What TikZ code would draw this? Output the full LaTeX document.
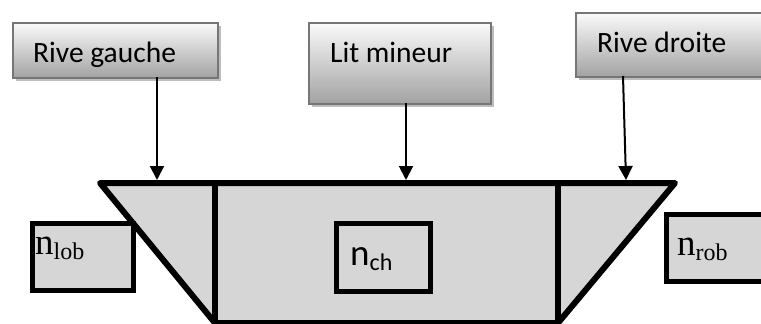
\documentclass[tikz,border=0pt]{standalone}
\usepackage{fontspec}
\setmainfont{Carlito}
\newfontfamily\serifn{Liberation Serif}
\usetikzlibrary{arrows.meta}
\definecolor{chanfill}{HTML}{D6D6D6}
\definecolor{boxborder}{HTML}{767676}
\definecolor{boxshadow}{HTML}{BDBDBD}
\definecolor{gradtop}{HTML}{FAFAFA}
\definecolor{gradbot}{HTML}{A2A2A2}
\tikzset{
  x=1pt, y=-1pt,
  labelbox/.style={draw=boxborder, line width=2pt, top color=gradtop, bottom color=gradbot, inner sep=0pt, anchor=north west},
  shadowbox/.style={fill=boxshadow, draw=none},
  labeltext/.style={inner sep=0pt, anchor=base west, font=\fontsize{29.5}{29.5}\selectfont},
  nbox/.style={draw=black, line width=5.5pt, fill=chanfill, inner sep=0pt, anchor=north west},
  ntext/.style={inner sep=0pt, anchor=base west},
  pointer/.style={line width=2pt, -{Triangle[length=14pt,width=14pt]}},
  chanline/.style={line width=6pt, line join=round}
}
\begin{document}
\begin{tikzpicture}
\useasboundingbox (0,0) rectangle (761,324);
\clip (0,0) rectangle (761,324);
% channel cross-section
\draw[chanline, fill=chanfill] (100,183) coordinate (tl) -- (675,183) coordinate (tr) -- (558,323) coordinate (br) -- (215,323) coordinate (bl) -- cycle;
\coordinate (v1t) at (215,183);
\coordinate (v2t) at (558,183);
\draw[chanline] (v1t) -- (bl);
\draw[chanline] (v2t) -- (br);
% roughness boxes
\node[nbox, minimum width=101pt, minimum height=67pt] (lob) at (29.5,220.5) {};
\node[ntext] at (35,254) {\serifn\fontsize{37}{37}\selectfont n\raisebox{-5pt}{\fontsize{24}{24}\selectfont lob}};
\node[nbox, minimum width=94pt, minimum height=68pt] (ch) at (333.5,220.5) {};
\node[ntext] at (350,265) {\fontsize{37}{37}\selectfont n\raisebox{-5pt}{\fontsize{24}{24}\selectfont ch}};
\node[nbox, minimum width=120pt, minimum height=67pt] (rob) at (663.5,211.5) {};
\node[ntext] at (677,255) {\serifn\fontsize{37}{37}\selectfont n\raisebox{-5pt}{\fontsize{24}{24}\selectfont rob}};
% label boxes
\fill[shadowbox] (16,26) rectangle (221,81);
\node[labelbox, minimum width=205pt, minimum height=55pt] (rg) at (12,22) {};
\node[labeltext] at (33,62) {Rive gauche};
\fill[shadowbox] (312,26) rectangle (494,107);
\node[labelbox, minimum width=182pt, minimum height=81pt] (lm) at (308,22) {};
\node[labeltext] at (330,62) {Lit mineur};
\fill[shadowbox] (579,16) rectangle (780,80);
\node[labelbox, minimum width=200pt, minimum height=64pt] (rd) at (575,12) {};
\node[labeltext] at (597,52) {Rive droite};
% pointers
\coordinate (rgs) at (157,77);
\coordinate (rgt) at (157,180);
\coordinate (lms) at (406,103);
\coordinate (lmt) at (406,180);
\coordinate (rds) at (623,76);
\coordinate (rdt) at (626,180);
\draw[pointer] (rgs) -- (rgt);
\draw[pointer] (lms) -- (lmt);
\draw[pointer] (rds) -- (rdt);
\end{tikzpicture}
\end{document}
